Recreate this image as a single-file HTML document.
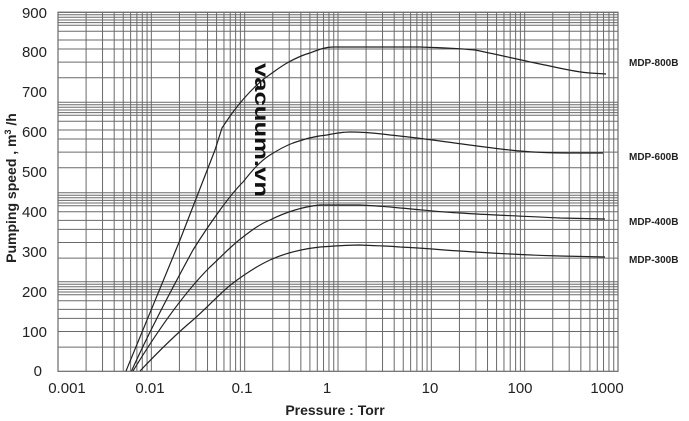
<!DOCTYPE html>
<html><head><style>
html,body{margin:0;padding:0;background:#fff;}
svg{display:block;}
text{font-family:"Liberation Sans",sans-serif;}
</style></head><body>
<svg width="689" height="421" viewBox="0 0 689 421" xmlns="http://www.w3.org/2000/svg">
<g id="grid" stroke="#6a6a6a" stroke-width="1" fill="none"></g>
<rect x="58" y="12.3" width="560" height="359" fill="none" stroke="#6a6a6a" stroke-width="1.2"/>
<g fill="none" stroke="#222" stroke-width="1.2">
<path d="M126,371 L180,240 L215,150 L222,128 C226,122 230,116 233,112 C245,96 255,86 265,78 C275,71 280,67 287,63 C296,58 302,55 310,53 C320,49 326,47 333,47 L360,47 L420,47 C450,48 465,49 475,50 C500,55 520,60 540,64 C560,68 575,72 590,73 L606,74"/>
<path d="M131.5,371 C150,330 175,283 193,250 C203,234 212,221 220,210 C228,199 235,190 243,182 C251,172 259,162 270,155 C278,150 285,146 293,143 C305,139 315,136 327,135 C337,133 345,132 350,132 C365,132 375,133 390,135 C410,137 425,139 440,141 C470,145 490,148 510,150 C535,153 560,153 575,153 L603,153"/>
<path d="M133,371 C158,330 185,292 210,267 C222,256 232,245 243,237 C252,230 260,224 270,220 C282,214 300,207 320,205 L360,205 C380,206 390,207 400,208 C425,210 440,212 460,213 C490,215 520,216 560,218 L605,219"/>
<path d="M140,371 C158,352 175,335 193,320 C208,307 220,293 233,283 C245,274 257,266 270,260 C285,253 302,249 320,247 C335,246 348,245 360,245 C380,246 390,246 400,247 C425,248 440,250 460,251 C490,253 520,255 560,256 L605,257"/>
</g>
<g font-size="15" fill="#222" text-anchor="end">
<text x="47" y="18">900</text><text x="47" y="57">800</text><text x="47" y="97">700</text>
<text x="47" y="137">600</text><text x="47" y="177">500</text><text x="47" y="217">400</text>
<text x="47" y="257">300</text><text x="47" y="297">200</text><text x="47" y="337">100</text>
<text x="42" y="376">0</text>
</g>
<g font-size="15" fill="#222" text-anchor="middle">
<text x="67" y="393">0.001</text><text x="150" y="393">0.01</text><text x="242" y="393">0.1</text>
<text x="327" y="393">1</text><text x="430" y="393">10</text><text x="520" y="393">100</text><text x="607" y="393">1000</text>
</g>
<text x="335" y="415" font-size="14" font-weight="bold" fill="#222" text-anchor="middle">Pressure : Torr</text>
<text transform="translate(16,188) rotate(-90)" font-size="14" font-weight="bold" fill="#222" text-anchor="middle">Pumping speed , m<tspan font-size="9" dy="-5">3</tspan><tspan dy="5"> /h</tspan></text>
<g font-size="10" font-weight="bold" fill="#222">
<text x="629" y="66">MDP-800B</text><text x="629" y="160">MDP-600B</text>
<text x="629" y="225">MDP-400B</text><text x="629" y="263">MDP-300B</text>
</g>
<text transform="translate(255,63) rotate(90)" font-size="19" font-weight="bold" fill="#111" textLength="134" lengthAdjust="spacingAndGlyphs">vacuum.vn</text>
</svg>
<script>
var g=document.getElementById('grid'),s='';
var L=58,W=560/6;
for(var d=0;d<6;d++){for(var k=1;k<=9;k++){var x=L+W*(d+Math.log10(k));s+='<line x1="'+x+'" y1="12.3" x2="'+x+'" y2="371.3"/>';}}
var off=[0,2.5,5,7.7,10.3,13,19,27.7,36.7,49.8,65.4],bs=[12.3,102.3,192.7,281.7];
bs.forEach(function(b){off.forEach(function(o){var y=b+o;s+='<line x1="58" y1="'+y+'" x2="618" y2="'+y+'"/>';});});
g.innerHTML=s;
</script>
</body></html>
